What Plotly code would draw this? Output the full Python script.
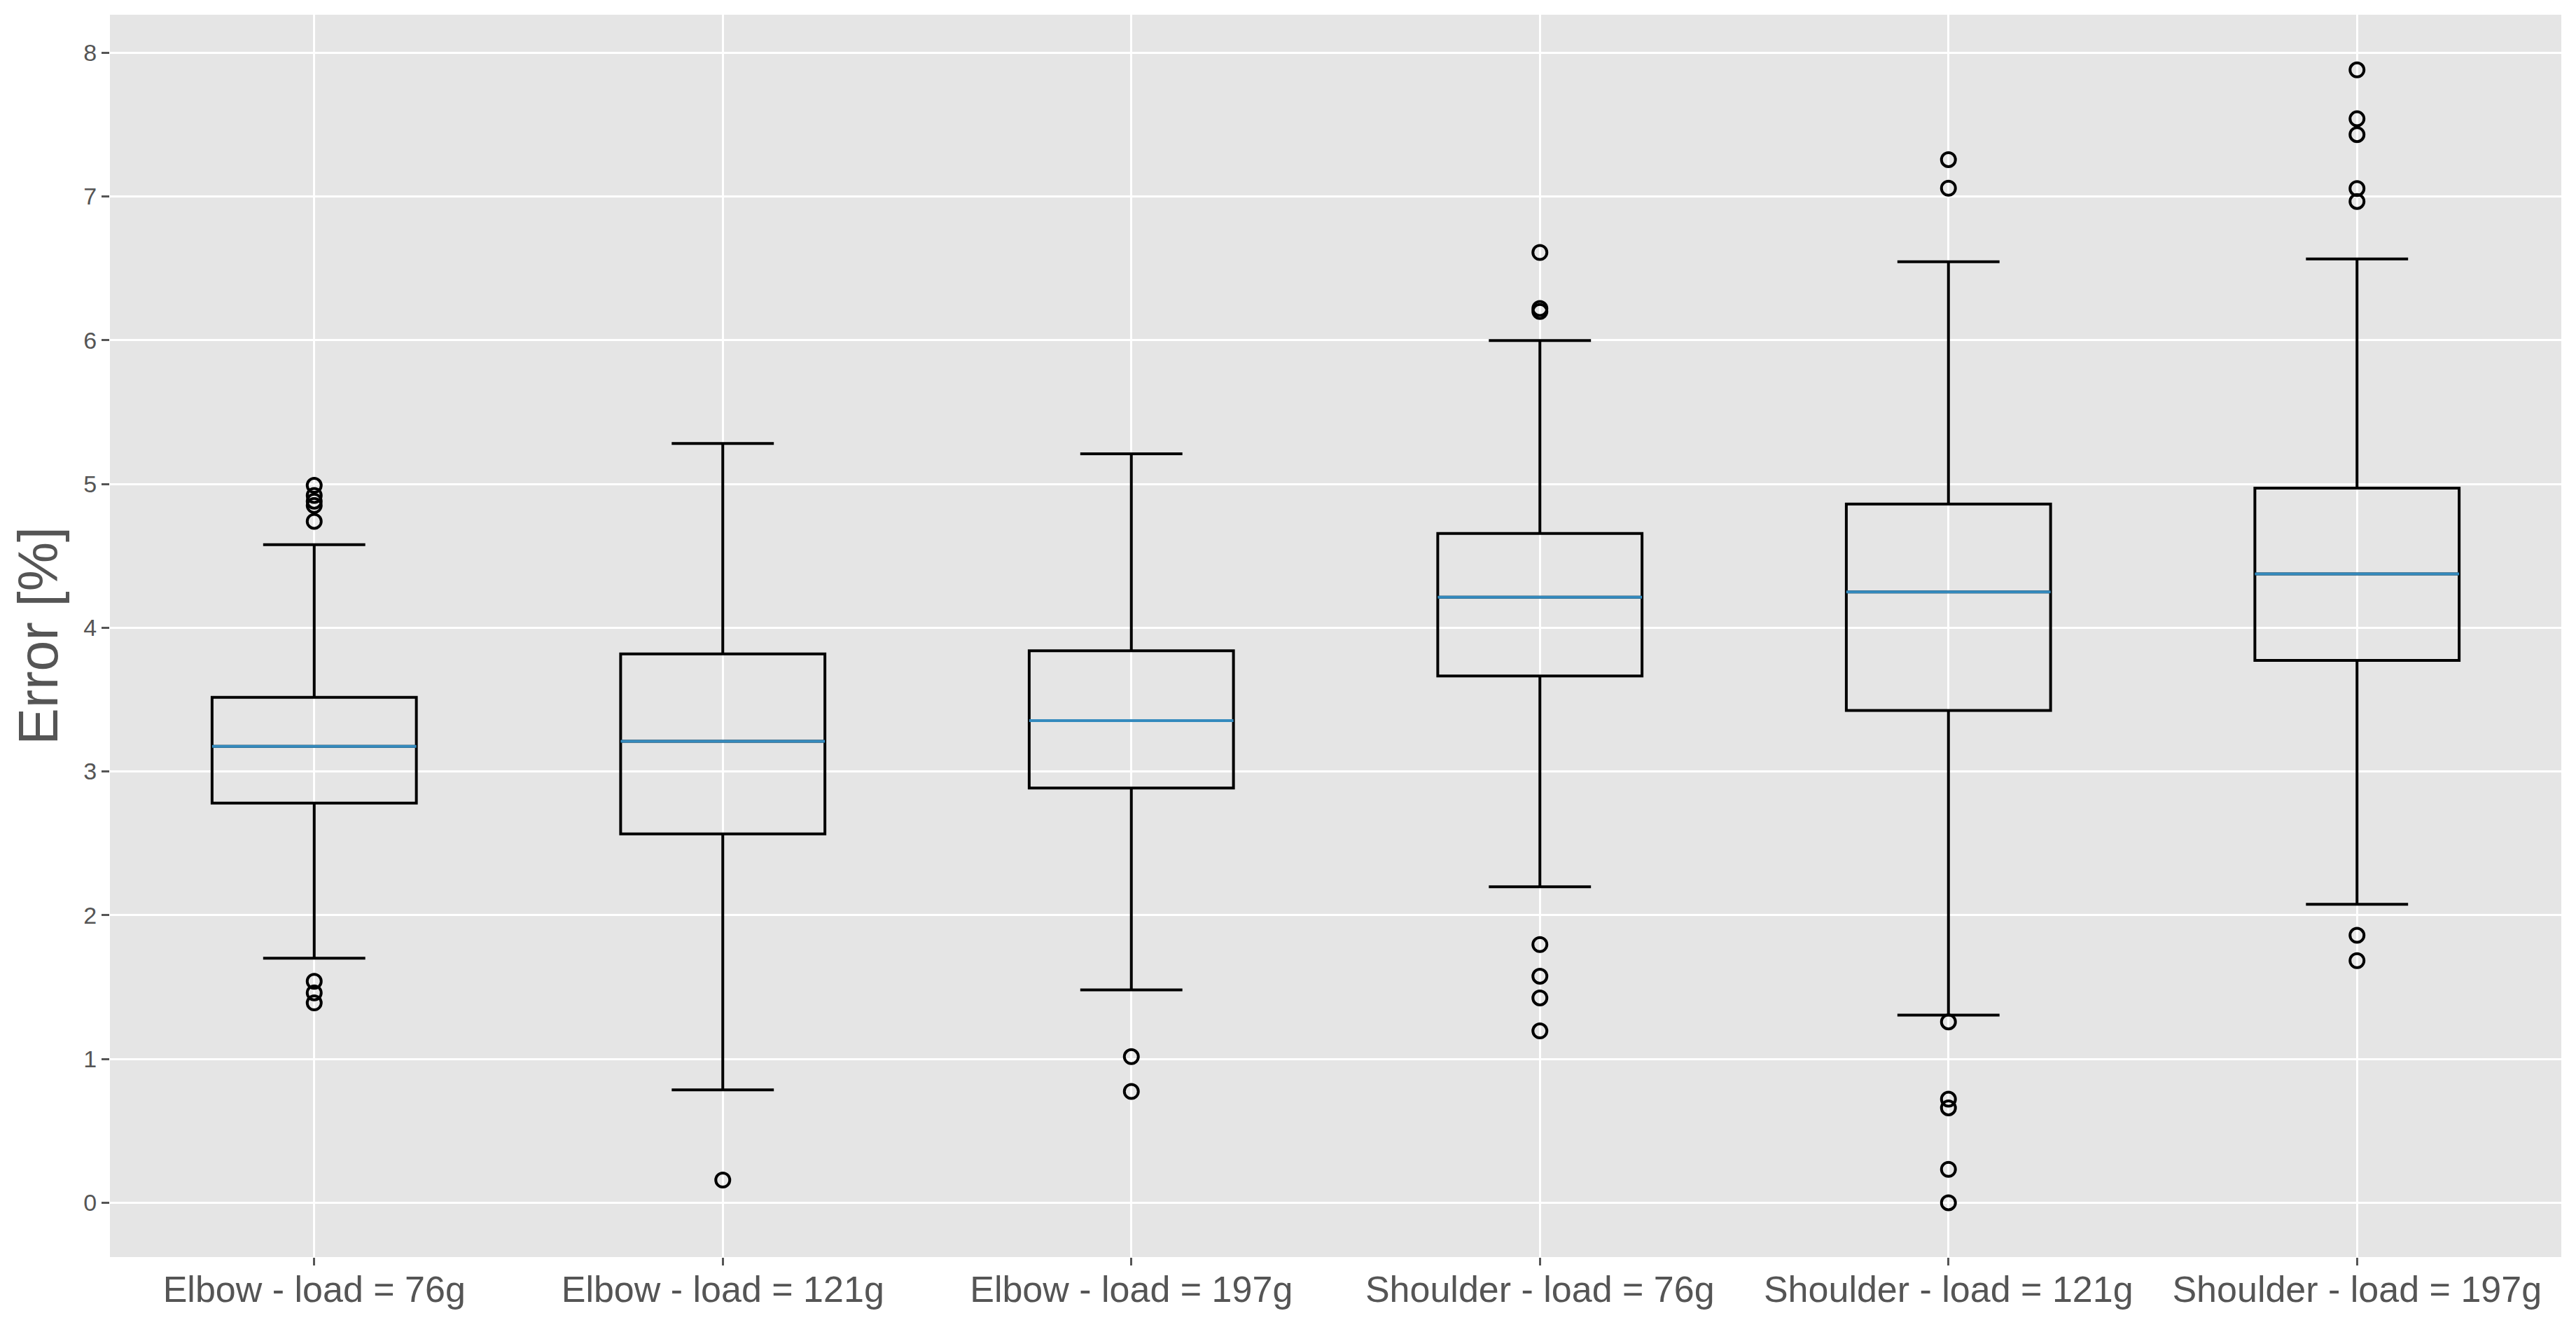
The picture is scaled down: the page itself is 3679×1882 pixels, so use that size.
import plotly.graph_objects as go

# ---- data ----
categories = ["Elbow - load = 76g", "Elbow - load = 121g", "Elbow - load = 197g",
              "Shoulder - load = 76g", "Shoulder - load = 121g", "Shoulder - load = 197g"]
positions = [1, 2, 3, 4, 5, 6]
q1 = [2.780, 2.565, 2.885, 3.664, 3.424, 3.772]
median = [3.174, 3.210, 3.354, 4.212, 4.249, 4.374]
q3 = [3.516, 3.818, 3.840, 4.656, 4.860, 4.971]
lower_whisker = [1.701, 0.785, 1.480, 2.198, 1.305, 2.076]
upper_whisker = [4.578, 5.281, 5.209, 5.998, 6.546, 6.565]
outliers = [
    [4.99, 4.92, 4.88, 4.85, 4.74, 1.54, 1.46, 1.39],
    [0.158],
    [1.016, 0.774],
    [6.61, 6.22, 6.20, 1.796, 1.576, 1.425, 1.195],
    [7.256, 7.057, 1.258, 0.72, 0.66, 0.232, 0.0],
    [7.88, 7.54, 7.43, 7.055, 6.965, 1.86, 1.684],
]
y_ticks = [0, 1, 2, 3, 4, 5, 6, 7, 8]

# ---- style ----
BOX_WIDTH = 0.5
LW = 4.0
MEDIAN_COLOR = "#348ABD"
TEXT_COLOR = "#555555"
FONT = "Liberation Sans, Arial, Helvetica, sans-serif"

fig = go.Figure()

fig.add_trace(go.Box(
    x=positions, q1=q1, median=median, q3=q3,
    lowerfence=lower_whisker, upperfence=upper_whisker,
    width=BOX_WIDTH, whiskerwidth=0.5,
    fillcolor="rgba(0,0,0,0)",
    line=dict(color="black", width=LW),
    boxpoints=False, showlegend=False, hoverinfo="skip",
))

# medians in blue on top of the boxes
for p, m in zip(positions, median):
    fig.add_trace(go.Scatter(
        x=[p - BOX_WIDTH / 2, p + BOX_WIDTH / 2], y=[m, m],
        mode="lines", line=dict(color=MEDIAN_COLOR, width=LW),
        showlegend=False, hoverinfo="skip",
    ))

# fliers
fx, fy = [], []
for p, vals in zip(positions, outliers):
    fx += [p] * len(vals)
    fy += vals
fig.add_trace(go.Scatter(
    x=fx, y=fy, mode="markers",
    marker=dict(symbol="circle-open", size=20, color="black",
                line=dict(color="black", width=4)),
    showlegend=False, hoverinfo="skip",
))

# page body has an 8px margin, so the figure is shrunk by that amount
fig.update_layout(
    width=3671, height=1874, autosize=False,
    margin=dict(l=149, r=21, t=13, b=87, pad=0),
    paper_bgcolor="white", plot_bgcolor="#E5E5E5",
    font=dict(family=FONT, color=TEXT_COLOR),
)
fig.update_xaxes(
    range=[0.5, 6.5], tickmode="array", tickvals=positions, ticktext=categories,
    tickfont=dict(size=52, color=TEXT_COLOR, family=FONT),
    showgrid=True, gridcolor="white", gridwidth=3,
    ticks="outside", ticklen=11, tickwidth=3, tickcolor=TEXT_COLOR,
    ticklabelstandoff=-10,
    zeroline=False, showline=False, automargin=False,
)
fig.update_yaxes(
    range=[-0.378, 8.264], tickmode="array", tickvals=y_ticks,
    ticktext=[str(v) for v in y_ticks],
    tickfont=dict(size=34, color=TEXT_COLOR, family=FONT),
    showgrid=True, gridcolor="white", gridwidth=3,
    ticks="outside", ticklen=11, tickwidth=3, tickcolor=TEXT_COLOR,
    zeroline=False, showline=False, automargin=False,
    title=dict(text="Error [%]", font=dict(size=79, color=TEXT_COLOR, family=FONT), standoff=10),
)

fig.write_html("out.html")
